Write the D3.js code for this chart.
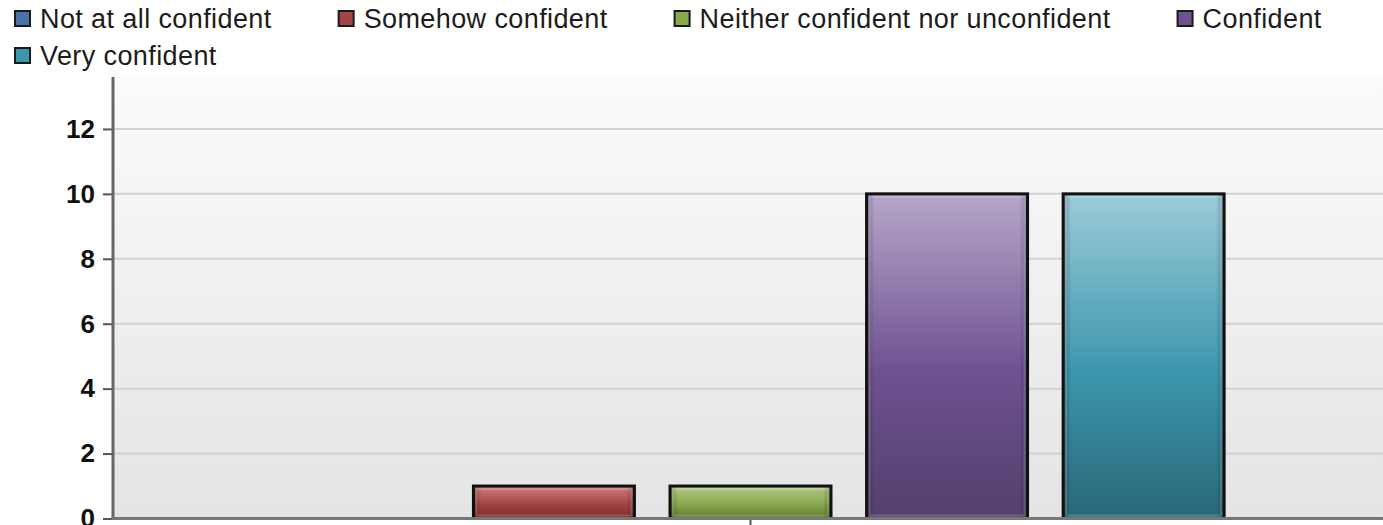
<!DOCTYPE html>
<html>
<head>
<meta charset="utf-8">
<script src="https://cdn.jsdelivr.net/npm/d3@7/dist/d3.min.js"></script>
<style>
  html, body { margin: 0; padding: 0; background: #ffffff; }
  svg { display: block; }
  text { font-family: "Liberation Sans", Arial, sans-serif; }
</style>
</head>
<body>
<svg id="chart" width="1383" height="525"></svg>
<script>
// Survey answers: how confident respondents felt
const categories = ["Responses"];
const seriesNames = [
  "Not at all confident",
  "Somehow confident",
  "Neither confident nor unconfident",
  "Confident",
  "Very confident"
];
const seriesValues = [0, 1, 1, 10, 10];
const yTicks = [0, 2, 4, 6, 8, 10, 12];
const yMax = 13.6;

// Base colour plus light (top) and dark (bottom) shades for each series
const swatchColors = ["#4a72a8", "#a44444", "#8aa84c", "#6e5192", "#3c96ad"];
const lightColors  = ["#9ab4d8", "#cf7f7f", "#b3ca8e", "#b6a6c9", "#9dcbd8"];
const darkColors   = ["#2e4c74", "#7c2c2c", "#5c7a2c", "#52406c", "#2a6878"];

const svg = d3.select("#chart");
const W = 1383, H = 525;
const plot = { left: 113, right: 1388, top: 77, bottom: 518.5 };

const defs = svg.append("defs");

// Plot background: near white at the top fading to light grey
const bg = defs.append("linearGradient").attr("id", "plotBg")
  .attr("x1", 0).attr("y1", 0).attr("x2", 0).attr("y2", 1);
bg.append("stop").attr("offset", "0%").attr("stop-color", "#fbfbfb");
bg.append("stop").attr("offset", "100%").attr("stop-color", "#e4e4e4");

seriesNames.forEach((s, i) => {
  const g = defs.append("linearGradient").attr("id", "barFill" + i)
    .attr("x1", 0).attr("y1", 0).attr("x2", 0).attr("y2", 1);
  g.append("stop").attr("offset", "0%").attr("stop-color", lightColors[i]);
  g.append("stop").attr("offset", "55%").attr("stop-color", swatchColors[i]);
  g.append("stop").attr("offset", "100%").attr("stop-color", darkColors[i]);
});

// Side shading to give the bars a bevelled look
const side = defs.append("linearGradient").attr("id", "barSides")
  .attr("x1", 0).attr("y1", 0).attr("x2", 1).attr("y2", 0);
side.append("stop").attr("offset", "0%").attr("stop-color", "#000").attr("stop-opacity", 0.28);
side.append("stop").attr("offset", "5%").attr("stop-color", "#000").attr("stop-opacity", 0);
side.append("stop").attr("offset", "95%").attr("stop-color", "#000").attr("stop-opacity", 0);
side.append("stop").attr("offset", "100%").attr("stop-color", "#000").attr("stop-opacity", 0.28);

const y = d3.scaleLinear().domain([0, yMax]).range([plot.bottom, plot.top]);
const x0 = d3.scaleBand().domain(categories).range([plot.left, plot.right])
  .paddingInner(0).paddingOuter(0.173);
const x1 = d3.scaleBand().domain(seriesNames).range([0, x0.bandwidth()])
  .paddingInner(0.181).paddingOuter(0);

// Background
svg.append("rect")
  .attr("x", plot.left).attr("y", plot.top)
  .attr("width", plot.right - plot.left).attr("height", plot.bottom - plot.top)
  .attr("fill", "url(#plotBg)");

// Horizontal grid lines
svg.append("g").selectAll("line")
  .data(yTicks.filter(t => t > 0))
  .join("line")
  .attr("x1", plot.left).attr("x2", plot.right)
  .attr("y1", d => y(d)).attr("y2", d => y(d))
  .attr("stroke", "#d2d2d2").attr("stroke-width", 2);

// Bars
const barG = svg.append("g");
categories.forEach(cat => {
  seriesNames.forEach((s, i) => {
    const v = seriesValues[i];
    if (v <= 0) return;
    const bx = x0(cat) + x1(s);
    const by = y(v);
    const bw = x1.bandwidth();
    const bh = y(0) - y(v);
    barG.append("rect")
      .attr("x", bx).attr("y", by).attr("width", bw).attr("height", bh)
      .attr("fill", "url(#barFill" + i + ")");
    barG.append("rect")
      .attr("x", bx).attr("y", by).attr("width", bw).attr("height", bh)
      .attr("fill", "url(#barSides)");
    barG.append("rect")
      .attr("x", bx + 3).attr("y", by + 3).attr("width", bw - 6).attr("height", Math.max(0, bh - 6))
      .attr("fill", "none").attr("stroke", "#ffffff").attr("stroke-opacity", 0.18).attr("stroke-width", 2);
    barG.append("rect")
      .attr("x", bx).attr("y", by).attr("width", bw).attr("height", bh)
      .attr("fill", "none").attr("stroke", "#111").attr("stroke-width", 3);
  });
});

// Y axis
const yAxis = svg.append("g")
  .attr("transform", `translate(${plot.left},0)`)
  .call(d3.axisLeft(y).tickValues(yTicks).tickSize(10).tickPadding(8).tickFormat(d3.format("d")));
yAxis.select(".domain").remove();
yAxis.selectAll(".tick line").attr("stroke", "#555").attr("stroke-width", 2);
yAxis.selectAll(".tick text")
  .attr("fill", "#111").attr("font-size", 26).attr("font-weight", "bold")
  .attr("font-family", "'Liberation Sans', Arial, sans-serif");
svg.append("line")
  .attr("x1", plot.left).attr("x2", plot.left)
  .attr("y1", plot.top).attr("y2", plot.bottom)
  .attr("stroke", "#666").attr("stroke-width", 3);

// X axis (single category, label hidden below the visible area)
const xAxis = svg.append("g")
  .attr("transform", `translate(0,${plot.bottom})`)
  .call(d3.axisBottom(x0).tickSize(8).tickFormat(""));
xAxis.select(".domain").remove();
xAxis.selectAll(".tick line").attr("stroke", "#555").attr("stroke-width", 2);
svg.append("line")
  .attr("x1", plot.left - 1.5).attr("x2", W)
  .attr("y1", plot.bottom).attr("y2", plot.bottom)
  .attr("stroke", "#777").attr("stroke-width", 3);

// Legend, flowing left to right and wrapping
const legend = svg.append("g");
const legendFont = 27, rowH = 37, gap = 66, swatch = 15;
let lx = 14, ly = 0;
seriesNames.forEach((s, i) => {
  const item = legend.append("g");
  const t = item.append("text")
    .attr("x", 26).attr("y", 28)
    .attr("font-size", legendFont)
    .attr("letter-spacing", 0.4)
    .attr("fill", "#1c1c1c")
    .text(s);
  const tw = t.node().getComputedTextLength();
  if (lx + 26 + tw > W && lx > 14) { lx = 14; ly += rowH; }
  item.insert("rect", "text")
    .attr("x", 1).attr("y", 11).attr("width", swatch).attr("height", swatch)
    .attr("fill", swatchColors[i]).attr("stroke", "#1a1a1a").attr("stroke-width", 2);
  item.attr("transform", `translate(${lx},${ly})`);
  lx += 26 + tw + gap;
});
</script>
</body>
</html>
